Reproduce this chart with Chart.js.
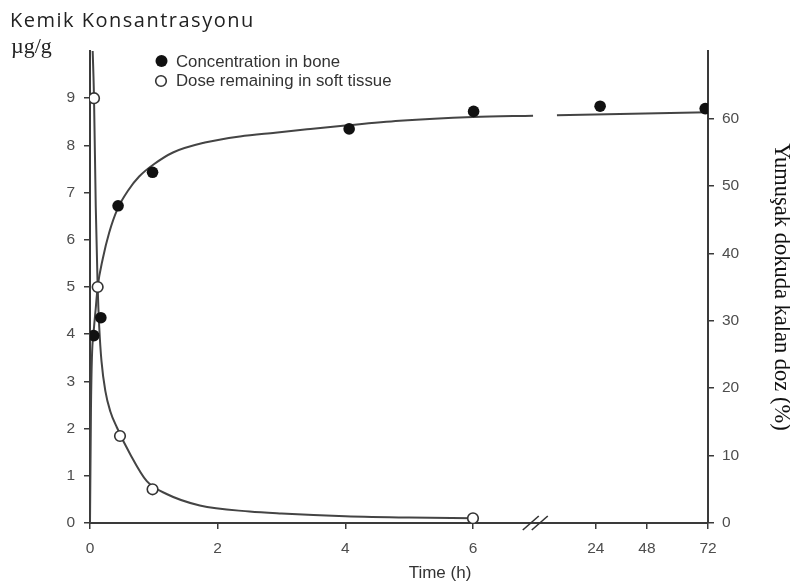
<!DOCTYPE html>
<html>
<head>
<meta charset="utf-8">
<script src="https://cdn.jsdelivr.net/npm/chart.js@4.4.0/dist/chart.umd.min.js"></script>
<style>
  html, body { margin: 0; padding: 0; background: #fff; }
  #wrap { position: relative; width: 790px; height: 582px; }
</style>
</head>
<body>
<div id="wrap"><canvas id="chart"></canvas></div>
<script>
// Tick labels
const xTickHours = [0, 2, 4, 6, 24, 48, 72];
const xTickLabels = ['0', '2', '4', '6', '24', '48', '72'];
const leftTicks = [0, 1, 2, 3, 4, 5, 6, 7, 8, 9];
const rightTicks = [0, 10, 20, 30, 40, 50, 60];

// Measured points: bone (µg/g, left axis), soft tissue (% dose, right axis)
const boneHours = [0.06, 0.17, 0.44, 0.98, 4.06, 6.09, 26, 70.9];
const boneConc = [3.97, 4.35, 6.72, 7.43, 8.35, 8.72, 8.83, 8.78];
const softHours = [0.063, 0.12, 0.47, 0.98, 6.0];
const softDose = [63, 35, 12.9, 5.0, 0.7];

// Fitted curves as drawn in the figure (null = axis break gap)
const boneCurveHours = [0, 0.015, 0.03, 0.06, 0.09, 0.12, 0.2, 0.3, 0.43, 0.6, 0.77, 1.0, 1.3, 1.8, 2.35, 2.9, 3.4, 4.0, 4.85, 6.0, 14.8, 16.5, 18.3, 72];
const boneCurveConc = [0, 2.4, 3.5, 4.1, 4.55, 5.0, 5.6, 6.15, 6.65, 7.05, 7.34, 7.6, 7.85, 8.06, 8.19, 8.27, 8.34, 8.42, 8.52, 8.6, 8.63, null, 8.64, 8.7];
const softCurveHours = [0.035, 0.063, 0.09, 0.12, 0.145, 0.18, 0.24, 0.32, 0.42, 0.63, 0.89, 1.2, 1.72, 2.5, 3.0, 4.0, 5.0, 6.0];
const softCurveDose = [72, 63, 47, 35, 29, 24, 19.6, 16.5, 14.2, 10.2, 6.2, 4.3, 2.6, 1.7, 1.4, 1.0, 0.8, 0.7];

// Broken time axis: hours -> axis position
const hourKnots = [0, 6, 24, 48, 72];
const axisKnots = [0, 6, 7.925, 8.725, 9.682];
const breakHour = 15.2;

function toAxis(h) {
    for (let i = 1; i < hourKnots.length; i++) {
        if (h <= hourKnots[i]) {
            const f = (h - hourKnots[i - 1]) / (hourKnots[i] - hourKnots[i - 1]);
            return axisKnots[i - 1] + f * (axisKnots[i] - axisKnots[i - 1]);
        }
    }
    return axisKnots[axisKnots.length - 1];
}

function pts(hours, values) {
    return hours.map((h, i) => ({ x: toAxis(h), y: values[i] }));
}

const tickFont = { family: 'Liberation Sans, Arial, sans-serif', size: 15.5 };
const tickColor = '#4d4d4d';
const axisColor = '#3a3a3a';

// Extra texts, legend and break marks
const decor = {
    id: 'decor',
    afterDraw(chart) {
        const ctx = chart.ctx;
        const x = chart.scales.x;
        const bottom = chart.chartArea.bottom;
        ctx.save();

        ctx.fillStyle = '#222';
        ctx.textBaseline = 'alphabetic';
        ctx.textAlign = 'left';
        ctx.font = '20px "Open Sans", sans-serif';
        ctx.letterSpacing = '1.5px';
        ctx.fillText('Kemik Konsantrasyonu', 10, 27);
        ctx.letterSpacing = '0px';
        ctx.font = '22px "Liberation Serif", serif';
        ctx.fillText('µg/g', 11, 53);

        // legend
        ctx.font = '16.8px "Liberation Sans", Arial, sans-serif';
        ctx.fillStyle = '#333';
        ctx.textBaseline = 'middle';
        ctx.fillText('Concentration in bone', 176, 62);
        ctx.fillText('Dose remaining in soft tissue', 176, 81);
        ctx.beginPath();
        ctx.arc(161.5, 61, 6, 0, Math.PI * 2);
        ctx.fillStyle = '#111';
        ctx.fill();
        ctx.beginPath();
        ctx.arc(161, 81, 5.3, 0, Math.PI * 2);
        ctx.fillStyle = '#fff';
        ctx.fill();
        ctx.lineWidth = 1.6;
        ctx.strokeStyle = '#333';
        ctx.stroke();

        // x title
        ctx.fillStyle = '#333';
        ctx.textAlign = 'center';
        ctx.font = '17px "Liberation Sans", Arial, sans-serif';
        ctx.fillText('Time (h)', 440, 573);

        // axis break
        const bx = x.getPixelForValue(toAxis(breakHour));
        ctx.strokeStyle = '#333';
        ctx.lineWidth = 1.6;
        [-5, 4].forEach(off => {
            ctx.beginPath();
            ctx.moveTo(bx + off - 8, bottom + 7);
            ctx.lineTo(bx + off + 8, bottom - 7);
            ctx.stroke();
        });
        ctx.restore();
    }
};

new Chart(document.getElementById('chart'), {
    type: 'scatter',
    data: {
        datasets: [{
            label: 'Concentration in bone',
            data: pts(boneHours, boneConc),
            yAxisID: 'y',
            pointRadius: 5.8,
            pointBackgroundColor: '#111',
            pointBorderColor: '#111',
            pointBorderWidth: 0,
            order: 0
        }, {
            label: 'Dose remaining in soft tissue',
            data: pts(softHours, softDose),
            yAxisID: 'y1',
            pointRadius: 5.3,
            pointBackgroundColor: '#fff',
            pointBorderColor: '#333',
            pointBorderWidth: 1.6,
            order: 0
        }, {
            label: 'bone fit',
            data: pts(boneCurveHours, boneCurveConc),
            yAxisID: 'y',
            showLine: true,
            spanGaps: false,
            pointRadius: 0,
            borderColor: '#444',
            borderWidth: 2,
            cubicInterpolationMode: 'monotone',
            order: 1
        }, {
            label: 'soft fit',
            data: pts(softCurveHours, softCurveDose),
            yAxisID: 'y1',
            showLine: true,
            pointRadius: 0,
            borderColor: '#444',
            borderWidth: 2,
            cubicInterpolationMode: 'monotone',
            order: 1
        }]
    },
    options: {
        responsive: true,
        maintainAspectRatio: false,
        animation: false,
        layout: { padding: { top: 51, left: 0, right: 0, bottom: 0 } },
        plugins: {
            legend: { display: false },
            tooltip: { enabled: false }
        },
        scales: {
            x: {
                type: 'linear',
                min: 0,
                max: toAxis(72),
                afterBuildTicks: axis => { axis.ticks = xTickHours.map(h => ({ value: toAxis(h) })); },
                afterFit: axis => { axis.height = 59; },
                grid: { drawOnChartArea: false, drawTicks: true, tickLength: 6, color: axisColor, lineWidth: 1.5 },
                border: { display: true, color: axisColor, width: 2 },
                ticks: {
                    autoSkip: false,
                    maxRotation: 0,
                    padding: 10,
                    font: tickFont,
                    color: tickColor,
                    callback: (v, i) => xTickLabels[i]
                }
            },
            y: {
                position: 'left',
                min: 0,
                max: 10,
                afterBuildTicks: axis => { axis.ticks = leftTicks.map(v => ({ value: v })); },
                afterFit: axis => { axis.width = 90; },
                grid: { drawOnChartArea: false, drawTicks: true, tickLength: 6, color: axisColor, lineWidth: 1.5 },
                border: { display: true, color: axisColor, width: 2 },
                ticks: { padding: 9, font: tickFont, color: tickColor }
            },
            y1: {
                position: 'right',
                min: 0,
                max: 70,
                afterBuildTicks: axis => { axis.ticks = rightTicks.map(v => ({ value: v })); },
                afterFit: axis => { axis.width = 82; },
                grid: { drawOnChartArea: false, drawTicks: true, tickLength: 6, color: axisColor, lineWidth: 1.5 },
                border: { display: true, color: axisColor, width: 2 },
                ticks: { padding: 8, font: tickFont, color: tickColor },
                title: {
                    display: true,
                    text: 'Yumuşak dokuda kalan doz (%)',
                    color: '#111',
                    font: { family: 'Liberation Serif, serif', size: 22.5, lineHeight: 0.8 },
                    padding: { top: 0, bottom: 0 }
                }
            }
        }
    },
    plugins: [decor]
});
</script>
</body>
</html>
